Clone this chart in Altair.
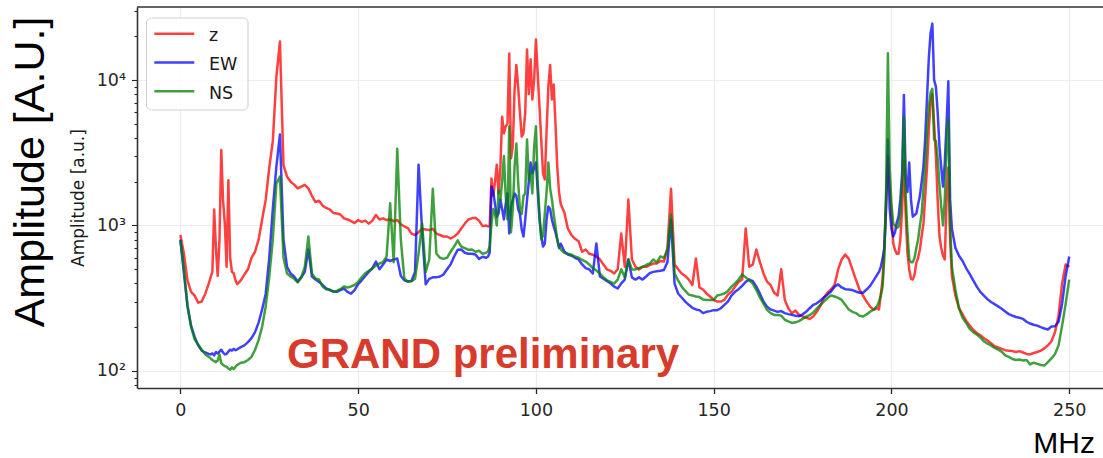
import altair as alt
import pandas as pd

# Frequency grid in MHz: 1 MHz steps, 0.5 MHz steps through the busy bands
FREQ_MHZ = (
    list(range(0, 8))
    + [8 + 0.5 * i for i in range(17)]      # 8 .. 16
    + list(range(17, 86))
    + [86 + 0.5 * i for i in range(43)]     # 86 .. 107
    + list(range(108, 196))
    + [196 + 0.5 * i for i in range(43)]    # 196 .. 217
    + list(range(218, 251))
)

Z_AMP = [
    # 0-7
    860, 640, 420, 350, 330, 295, 300, 340,
    # 8-16 (0.5)
    400, 440, 480, 1290, 700, 450, 800, 3300, 1500, 1030, 520, 2050, 600, 480, 470, 420, 395,
    # 17-85
    420, 460, 500, 600, 660, 800, 1100, 1500, 2500, 3800,
    10500, 18400, 2600, 2170, 2000, 1910, 1800, 1850, 1900, 1800,
    1600, 1450, 1480, 1370, 1320, 1290, 1220, 1210, 1190, 1120,
    1100, 1070, 1040, 1090, 1060, 1080, 1030, 1080, 1180, 1100,
    1120, 1090, 1100, 1070, 1090, 1020, 985, 960, 880, 860,
    900, 950, 940, 930, 950, 880, 860, 840, 840, 814,
    840, 880, 954, 1030, 1100, 1120, 1130, 1080, 990,
    # 86-107 (0.5)
    1000, 985, 990, 2100, 1600, 2000, 2620, 1660, 2500, 5600,
    4300, 4800, 5000, 15200, 2900, 3500, 8600, 12700, 9000, 6000,
    4080, 4290, 6000, 16200, 8000, 13900, 7350, 10000, 19000, 11100,
    6580, 3900, 2280, 2070, 4500, 9000, 12700, 7350, 9300, 5020,
    2540, 1700, 1400,
    # 108-195
    1230, 950, 860, 810, 780, 660, 684, 640, 630, 612,
    584, 540, 499, 488, 468, 500, 880, 520, 1510, 584,
    520, 499, 520, 520, 535, 548, 548, 570, 565, 700,
    1790, 540, 500, 468, 450, 425, 390, 593, 375, 363,
    340, 325, 308, 300, 300, 308, 335, 350, 380, 410,
    425, 954, 520, 540, 684, 560, 468, 412, 390, 345,
    330, 500, 308, 270, 249, 260, 243, 237, 232, 228,
    237, 255, 280, 320, 345, 363, 390, 499, 584, 632,
    590, 499, 425, 363, 330, 300, 277, 263,
    # 196-217 (0.5)
    270, 265, 335, 425, 717, 1500, 3000, 1800, 1210, 752,
    680, 640, 640, 801, 1300, 2800, 1200, 650, 499, 430,
    425, 460, 554, 600, 684, 850, 1030, 1600, 2500, 4500,
    7000, 8000, 5000, 3000, 1500, 850, 700, 620, 584, 1500,
    2500, 801, 450,
    # 218-250
    330, 270, 245, 222, 205, 192, 182, 176, 168, 162,
    155, 148, 145, 142, 139, 138, 137, 135, 137, 134,
    131, 130, 133, 135, 138, 143, 150, 160, 185, 240,
    400, 540, 520,
]

EW_AMP = [
    # 0-7
    800, 470, 280, 205, 172, 150, 138, 134,
    # 8-16 (0.5)
    131, 130, 132, 128, 135, 132, 136, 140, 134, 130, 131, 136, 140, 138, 142, 139, 141,
    # 17-85
    146, 150, 158, 168, 185, 215, 265, 340, 600, 1300,
    2540, 4220, 800, 520, 468, 446, 412, 440, 480, 684,
    446, 425, 410, 390, 370, 360, 352, 350, 360, 369,
    350, 340, 360, 395, 420, 450, 480, 510, 565, 500,
    540, 584, 570, 584, 593, 450, 420, 412, 415, 480,
    2620, 900, 394, 430, 440, 440, 446, 460, 500, 540,
    612, 680, 684, 650, 640, 640, 632, 590, 610,
    # 86-107 (0.5)
    600, 610, 650, 1850, 1700, 1400, 1150, 1210, 1510, 1300,
    1100, 1400, 1660, 881, 1350, 1500, 1660, 1600, 1300, 1200,
    940, 840, 1100, 1500, 2000, 2710, 2280, 2500, 2710, 1750,
    1100, 850, 717, 750, 1100, 1350, 1300, 1100, 985, 900,
    801, 700, 750,
    # 108-195
    663, 632, 620, 600, 584, 540, 510, 499, 468, 752,
    446, 430, 415, 399, 380, 369, 400, 425, 584, 440,
    425, 440, 425, 446, 470, 480, 485, 488, 495, 560,
    1100, 399, 341, 320, 300, 285, 272, 265, 262, 250,
    255, 258, 262, 262, 270, 285, 300, 330, 350, 365,
    385, 410, 425, 415, 380, 340, 300, 277, 265, 260,
    255, 258, 250, 246, 243, 240, 238, 245, 255, 270,
    285, 292, 305, 320, 335, 352, 380, 394, 375, 365,
    363, 360, 352, 345, 345, 363, 385, 420,
    # 196-217 (0.5)
    460, 480, 520, 590, 700, 1300, 3900, 1300, 950, 840,
    900, 1050, 1150, 1510, 2280, 7900, 2200, 1700, 2710, 1500,
    1150, 1180, 1210, 1400, 1600, 2000, 2540, 4000, 7500, 14000,
    21000, 24400, 10000, 9000, 6000, 3500, 2500, 1850, 2700, 5000,
    9800, 1500, 950,
    # 218-250
    700, 620, 570, 510, 465, 420, 380, 350, 330, 312,
    298, 288, 278, 268, 256, 246, 240, 235, 232, 228,
    218, 212, 208, 205, 200, 196, 193, 202, 203, 218,
    290, 450, 612,
]

NS_AMP = [
    # 0-7
    790, 500, 280, 202, 165, 152, 140, 130,
    # 8-16 (0.5)
    125, 122, 119, 117, 115, 118, 130, 113, 110, 108, 107, 104, 102, 106, 103, 107, 110,
    # 17-85
    114, 115, 119, 125, 140, 163, 202, 277, 446, 800,
    1940, 2170, 600, 468, 446, 430, 406, 440, 520, 840,
    468, 432, 425, 381, 365, 363, 352, 355, 365, 381,
    375, 381, 390, 410, 440, 470, 488, 505, 530, 548,
    560, 612, 1420, 560, 3370, 800, 430, 412, 415, 430,
    642, 1030, 480, 584, 1790, 642, 600, 590, 600, 660,
    717, 790, 717, 700, 680, 684, 660, 670, 640,
    # 86-107 (0.5)
    650, 660, 720, 1030, 1300, 1200, 1000, 1750, 1500, 2000,
    3000, 1600, 1100, 4790, 900, 1300, 2540, 3660, 2000, 1300,
    1200, 1600, 1660, 3900, 2070, 2280, 1660, 3500, 4800, 2000,
    1210, 801, 850, 1200, 1700, 2710, 1800, 1510, 1200, 980,
    800, 720, 684,
    # 108-195
    650, 640, 630, 612, 600, 580, 565, 540, 510, 490,
    468, 440, 420, 410, 399, 425, 500, 440, 584, 499,
    499, 510, 520, 535, 548, 584, 560, 612, 600, 680,
    1190, 468, 420, 380, 355, 335, 330, 325, 322, 310,
    308, 308, 308, 330, 335, 341, 355, 380, 400, 425,
    460, 440, 420, 399, 360, 320, 290, 263, 250, 243,
    243, 240, 225, 219, 214, 216, 220, 228, 236, 242,
    252, 268, 285, 300, 317, 330, 325, 318, 308, 285,
    265, 255, 250, 240, 237, 245, 255, 265,
    # 196-217 (0.5)
    280, 300, 330, 380, 600, 1800, 15300, 2500, 1400, 1030,
    1000, 960, 980, 1210, 2000, 5600, 1600, 900, 584, 560,
    560, 600, 700, 800, 1000, 1210, 1800, 2540, 4500, 6500,
    8200, 8700, 3900, 3800, 2900, 1900, 1350, 1000, 1500, 3500,
    5360, 1000, 520,
    # 218-250
    360, 270, 232, 214, 195, 185, 178, 170, 160, 154,
    150, 144, 140, 136, 128, 125, 121, 119, 120, 118,
    119, 111, 114, 112, 110, 109, 115, 122, 131, 150,
    205, 290, 425,
]

CHANNELS = ["z", "EW", "NS"]
LINE_COLORS = ["#ff0000", "#0000ff", "#008000"]
X_TICKS = [0, 50, 100, 150, 200, 250]
Y_TICKS = [80, 90, 100, 200, 300, 400, 500, 600, 700, 800, 900,
           1000, 2000, 3000, 4000, 5000, 6000, 7000, 8000, 9000,
           10000, 20000, 30000]

W, H = 966, 381
INK = "#262626"
MAJOR = "indexof([100, 1000, 10000], datum.value) >= 0"

x_enc = alt.X(
    "freq:Q",
    scale=alt.Scale(domain=[-12.2, 259.5], nice=False, zero=False),
    axis=alt.Axis(
        values=X_TICKS, format="d", title=None,
        labelFont="DejaVu Sans", labelFontSize=17.5, labelColor=INK,
        labelPadding=8, labelFlush=False, labelOverlap=False,
        tickSize=5.5, tickWidth=1.3, tickColor=INK,
        domainColor="#333333", domainWidth=1.6,
        gridColor="#ececec", gridWidth=1.2,
    ),
)

y_enc = alt.Y(
    "amp:Q",
    scale=alt.Scale(type="log", domain=[76.4, 31750], nice=False),
    axis=alt.Axis(
        values=Y_TICKS,
        labelExpr=("datum.value == 100 ? '10²' : datum.value == 1000 ? '10³' : "
                   "datum.value == 10000 ? '10⁴' : ''"),
        labelFont="DejaVu Sans", labelFontSize=17.5, labelColor=INK,
        labelPadding=6, labelOverlap=False, labelFlush=False,
        tickSize={"condition": {"test": MAJOR, "value": 5.5}, "value": 3},
        tickWidth=1.1, tickColor=INK,
        domainColor="#333333", domainWidth=1.6,
        gridColor="#ececec", gridWidth=1.2,
        gridOpacity={"condition": {"test": MAJOR, "value": 1}, "value": 0},
        title="Amplitude [a.u.]", titleFont="DejaVu Sans", titleFontSize=17,
        titleFontWeight="normal", titleColor="#1a1a1a",
        titleX=-53.5, titleY=H / 2, titleAngle=270,
        titleAlign="center", titleBaseline="alphabetic",
    ),
)

layers = []
for name, amps, color in zip(CHANNELS, [Z_AMP, EW_AMP, NS_AMP], LINE_COLORS):
    df = pd.DataFrame({"freq": FREQ_MHZ, "amp": amps})
    layers.append(
        alt.Chart(df)
        .mark_line(color=color, strokeWidth=2.5, opacity=0.75,
                   strokeJoin="round", clip=True)
        .encode(x=x_enc, y=y_enc)
    )

one = pd.DataFrame({"k": [0]})

# top frame line of the axes box
top_spine = alt.Chart(one).mark_rule(color="#333333", strokeWidth=1.6).encode(
    x=alt.value(0), x2=alt.value(W), y=alt.value(0)
)

# legend box with line samples
legend_layers = [
    alt.Chart(one).mark_rect(fill="white", fillOpacity=0.85, stroke="#cfcfcf",
                             strokeWidth=1, cornerRadius=5).encode(
        x=alt.value(9.5), x2=alt.value(111), y=alt.value(11), y2=alt.value(103)
    )
]
for i, (name, color) in enumerate(zip(CHANNELS, LINE_COLORS)):
    row_y = 26.7 + 28.8 * i
    legend_layers.append(
        alt.Chart(one).mark_rule(color=color, strokeWidth=2.5, opacity=0.75).encode(
            x=alt.value(17.3), x2=alt.value(57.3), y=alt.value(row_y)
        )
    )
    legend_layers.append(
        alt.Chart(one).mark_text(text=name, align="left", baseline="alphabetic",
                                 font="DejaVu Sans", fontSize=17.5, color="#1a1a1a").encode(
            x=alt.value(72), y=alt.value(row_y + 7.5)
        )
    )

big_ylabel = alt.Chart(one).mark_text(
    text="Amplitude [A.U.]", angle=270, align="center", baseline="alphabetic",
    font="Liberation Sans", fontSize=43, color="black",
).encode(x=alt.value(-93.5), y=alt.value(165))

stamp = alt.Chart(one).mark_text(
    text="GRAND preliminary", align="left", baseline="alphabetic",
    font="Liberation Sans", fontSize=42, fontWeight="bold", color="#d83a2c",
).encode(x=alt.value(150), y=alt.value(361))

unit = alt.Chart(one).mark_text(
    text="MHz", align="right", baseline="alphabetic",
    font="Liberation Sans", fontSize=30, color="black",
).encode(x=alt.value(958), y=alt.value(446))

chart = (
    alt.layer(*layers, top_spine, *legend_layers, big_ylabel, stamp, unit)
    .properties(
        width=W, height=H,
        autosize=alt.AutoSizeParams(type="none"),
        padding={"left": 137, "top": 7, "right": 0, "bottom": 70},
        background="white",
    )
    .configure_view(stroke=None)
)

chart.save("out.html", embed_options={"renderer": "svg", "actions": False})
